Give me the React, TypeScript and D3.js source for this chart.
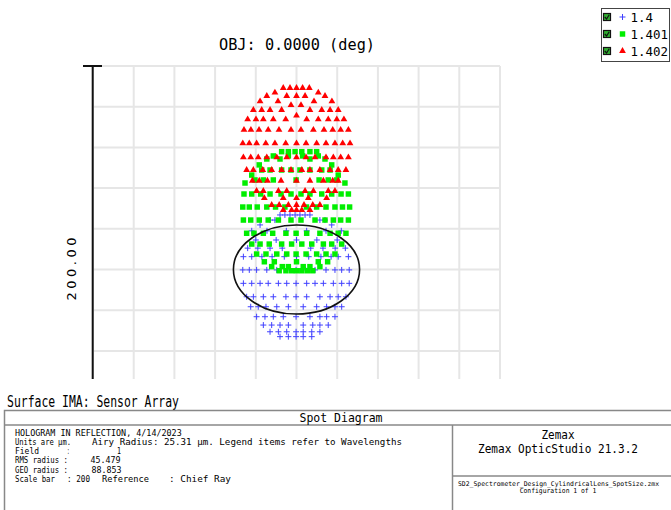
import React from 'react';
import * as d3 from 'd3';

// ---------- data (µm, relative to chief ray) ----------
const wavelengths = ['1.4', '1.401', '1.402'];
const seriesColors = ['#4040ff', '#00ee00', '#ff0000'];
const gridTicks = [-100, -80, -60, -40, -20, 0, 20, 40, 60, 80, 100];
const scaleBar = 200;
const airyEllipse = { rx: 31, ry: 21.9 };

// rows: [y, [x...]]
const blueRows: [number, number[]][] = [
  [26.8, [-8.1, -5.7, -3.2, -0.7, 1.7, 4.2, 6.6]],
  [24.3, [-13.0, -10.6, 11.5, 14.0]],
  [21.9, [-17.9, 17.3]],
  [19.0, [-22.0, -14.5, -5.0, 5.0, 14.5, 22.0]],
  [14.5, [-20.0, -10.0, 0, 10.0, 20.0]],
  [10.5, [-24.0, -19.0, -13.0, -7.0, 7.0, 13.0, 19.0, 24.0]],
  [6.3, [-26.1, -22.0, -17.0, -12.0, -6.0, 0, 6.0, 12.0, 17.0, 20.5, 25.5]],
  [-0.2, [-26.4, -23.2, -19.6, -14.6, -9.7, -4.5, -0.2, 4.5, 9.1, 14.5, 18.9, 22.2, 25.9]],
  [-6.8, [-26.1, -22.0, -17.9, -13.9, -8.9, -4.8, -0.2, 5.0, 9.1, 13.2, 18.1, 22.2, 25.9]],
  [-13.4, [-24.5, -21.2, -16.3, -11.4, -5.2, -0.2, 5.0, 11.5, 16.5, 20.5, 24.3]],
  [-18.3, [-22.5, -18.8, -15.0, -9.7, -4.0, 3.3, 9.9, 14.8, 18.9, 22.2]],
  [-23.2, [-19.6, -15.5, -11.4, -6.5, -0.2, 6.6, 11.5, 14.8, 18.9]],
  [-27.3, [-16.3, -12.2, -8.1, -4.0, 3.3, 8.0, 11.5, 15.6]],
  [-30.6, [-13.0, -8.9, -4.8, -0.2, 3.3, 7.5, 11.5]],
  [-33.0, [-8.1, -4.0, -0.2, 3.3, 7.5]],
];

const greenRows: [number, number[]][] = [
  [57.9, [-7.3, -4.0, -0.7, 2.6, 6.6, 9.9]],
  [55.8, [-11.4, -4.0, 3.0, 10.7]],
  [54.3, [-14.6, -8.1, 6.6, 14.0]],
  [51.4, [-18.3, 17.3]],
  [48.9, [-17.1, -13.0, -7.3, -2.7, 1.7, 6.6, 12.4, 16.5]],
  [46.4, [-22.0, 20.5]],
  [44.0, [-20.4, -16.3, -11.4, -0.2, 11.1, 15.6, 19.8]],
  [42.5, [-25.3, 23.8]],
  [37.1, [-25.8, -22.0, -17.6, -13.0, -7.6, -2.7, 2.2, 6.6, 12.4, 17.3, 21.9, 25.5]],
  [30.7, [-26.4, -23.2, -19.3, -14.6, -10.3, -5.7, 4.9, 9.9, 14.5, 18.9, 22.6, 26.1]],
  [24.3, [-26.1, -22.5, -18.3, -13.9, -8.9, -2.7, 2.2, 9.1, 14.0, 18.1, 21.7, 25.5]],
  [17.8, [-24.5, -20.9, -16.3, -11.7, -5.2, -0.2, 5.0, 11.5, 16.5, 20.5, 24.3]],
  [12.5, [-22.0, -17.9, -13.4, -7.3, -2.4, 2.6, 7.5, 13.2, 17.3, 22.2]],
  [7.6, [-19.6, -15.0, -9.7, -4.8, -0.2, 4.7, 9.9, 14.5, 18.9]],
  [3.8, [-15.8, -10.9, 0, 10.7, 15.3]],
  [1.4, [-12.2, -7.0, -4.0, 3.3, 6.6, 11.5]],
  [-0.6, [-8.5, -5.2, -2.4, 0, 2.6, 5.3, 8.0]],
];

const redRows: [number, number[]][] = [
  [89.2, [-6.5, -3.2, 0, 3.0, 6.3]],
  [86.9, [-10.6, 10.7]],
  [85.3, [-14.6, -4.8, 0, 4.2, 14.0]],
  [82.6, [-17.9, -9.1, 8.6, 17.4]],
  [80.8, [-2.7, 2.2]],
  [78.4, [-21.2, -17.1, -13.0, -7.3, 6.6, 12.4, 16.5, 20.5]],
  [75.6, [0]],
  [73.8, [-24.0, -19.9, -16.3, -11.4, -5.3, 5.0, 10.7, 15.6, 19.8, 23.3]],
  [68.6, [-25.8, -22.4, -18.4, -13.9, -8.6, -2.7, 2.2, 8.3, 13.5, 17.8, 21.7, 25.5]],
  [62.0, [-26.4, -23.2, -19.6, -15.1, -10.6, -5.3, 0, 4.7, 9.9, 14.5, 18.9, 22.7, 26.3]],
  [55.1, [-26.1, -22.5, -18.8, -14.6, -9.7, -4.8, 0, 4.7, 9.1, 14.5, 18.1, 21.7, 25.5]],
  [48.9, [-24.5, -21.2, -16.6, -12.2, -7.3, -2.7, 2.6, 6.6, 11.5, 16.5, 20.5, 24.3]],
  [43.6, [-21.7, -18.3, -14.3, -7.6, 0, 6.6, 13.2, 17.8, 20.5]],
  [38.6, [-19.6, -16.3, -8.9, -4.8, 4.2, 8.3, 15.6, 18.9]],
  [35.1, [-15.8, -6.5, 0, 5.8, 14.8]],
  [31.7, [-12.2, -8.5, -4.0, 0, 3.7, 8.0, 11.5]],
  [29.2, [-6.5, -2.4, 0, 2.6, 6.6]],
];

const titleText = 'OBJ: 0.0000 (deg)';
const surfaceText = 'Surface IMA: Sensor Array';
const panelTitle = 'Spot Diagram';
// info lines: segments of [text, x-start, width]
const infoLines: [string, number, number][][] = [
  [['HOLOGRAM IN REFLECTION, 4/14/2023', 15, 166.7]],
  [['Units are µm.', 15, 56], ['Airy Radius: 25.31 µm. Legend items refer to Wavelengths', 92, 310]],
  [['Field', 15, 24], [':', 67, 2.5], ['1', 117, 4]],
  [['RMS radius :', 15, 53], ['45.479', 90.5, 30]],
  [['GEO radius :', 15, 53], ['88.853', 91.5, 30]],
  [['Scale bar', 15, 40], [': 200', 67, 23], ['Reference', 102, 47], [': Chief Ray', 169, 62]],
];
const brandLines = ['Zemax', 'Zemax OpticStudio 21.3.2'];
const fileLines = ['SD2_Spectrometer_Design_CylindricalLens_SpotSize.zmx', 'Configuration 1 of 1'];

// ---------- layout ----------
const W = 671;
const H = 510;
const plotLeft = 93;
const plotRight = 500;
const plotTop = 66;
const plotBottom = 473;
const clipBottom = 379;
const MONO = '"DejaVu Sans Mono", "Liberation Mono", monospace';

const xScale = d3.scaleLinear().domain([-scaleBar / 2, scaleBar / 2]).range([plotLeft, plotRight]);
const yScale = d3.scaleLinear().domain([-scaleBar / 2, scaleBar / 2]).range([plotBottom, plotTop]);

const toPoints = (rows: [number, number[]][]) =>
  rows.flatMap(([y, xs]) => xs.map((x) => [x, y] as [number, number]));

const triPath = d3.symbol().type(d3.symbolTriangle).size(20)() as string;
const sqPath = d3.symbol().type(d3.symbolSquare).size(30)() as string;

function MText(props: {
  x: number; y: number; text: string; size: number; len?: number; anchor?: string; color?: string; family?: string;
}) {
  const { x, y, text, size, len, anchor, color, family } = props;
  return (
    <text
      x={x}
      y={y}
      fontSize={size}
      fontFamily={family || MONO}
      fill={color || '#000'}
      textAnchor={anchor || 'start'}
      {...(len ? { textLength: len, lengthAdjust: 'spacingAndGlyphs' } : {})}
    >
      {text}
    </text>
  );
}

function Plus({ x, y, color }: { x: number; y: number; color: string }) {
  return (
    <path d={`M${x - 3},${y}H${x + 3}M${x},${y - 3}V${y + 3}`} stroke={color} strokeWidth={1} fill="none" />
  );
}

export default function App() {
  const blue = toPoints(blueRows);
  const green = toPoints(greenRows);
  const red = toPoints(redRows);
  const cx = xScale(0);
  const cy = yScale(0);
  const rx = xScale(airyEllipse.rx) - cx;
  const ry = cy - yScale(airyEllipse.ry);

  const lineH = 9.27;
  const infoTop = 435.5;

  return (
    <svg
      width={W}
      height={H}
      viewBox={`0 0 ${W} ${H}`}
      style={{ position: 'absolute', left: 0, top: 0, background: '#fff' }}
    >
      <defs>
        <clipPath id="plotClip">
          <rect x={0} y={0} width={W} height={clipBottom} />
        </clipPath>
      </defs>
      <rect x={0} y={0} width={W} height={H} fill="#fff" />

      {/* title */}
      <MText x={297} y={50} text={titleText} size={15} len={156} anchor="middle" />

      {/* grid */}
      <g clipPath="url(#plotClip)">
        {gridTicks.map((t) => (
          <line key={'v' + t} x1={xScale(t)} x2={xScale(t)} y1={plotTop} y2={plotBottom} stroke="#e6e6e6" strokeWidth={2} />
        ))}
        {gridTicks.map((t) => (
          <line key={'h' + t} x1={plotLeft} x2={plotRight} y1={yScale(t)} y2={yScale(t)} stroke="#e6e6e6" strokeWidth={2} />
        ))}
        {/* scale bar */}
        <line x1={92.7} x2={92.7} y1={plotTop} y2={plotBottom} stroke="#111" strokeWidth={2} />
        <line x1={83} x2={102} y1={plotTop} y2={plotTop} stroke="#111" strokeWidth={2} />

        {/* spots */}
        {blue.map(([x, y], i) => (
          <Plus key={'b' + i} x={xScale(x)} y={yScale(y)} color={seriesColors[0]} />
        ))}
        {green.map(([x, y], i) => (
          <path key={'g' + i} d={sqPath} transform={`translate(${xScale(x)},${yScale(y)})`} fill={seriesColors[1]} />
        ))}
        {red.map(([x, y], i) => (
          <path key={'r' + i} d={triPath} transform={`translate(${xScale(x)},${yScale(y)})`} fill={seriesColors[2]} />
        ))}
        <ellipse cx={cx} cy={cy} rx={rx} ry={ry} fill="none" stroke="#111" strokeWidth={1.6} />
      </g>

      {/* scale label */}
      <g transform="translate(75.5,269) rotate(-90)">
        <text x={0} y={0} fontSize={13} fontFamily='"DejaVu Sans", Verdana, sans-serif' textAnchor="middle"
          textLength={63} lengthAdjust="spacing">{scaleBar.toFixed(2)}</text>
      </g>

      {/* legend */}
      <rect x={601.5} y={8.5} width={68} height={53} fill="#fff" stroke="#444" strokeWidth={1} />
      {wavelengths.map((w, i) => {
        const yy = 17 + i * 17;
        return (
          <g key={w}>
            <rect x={603.5} y={yy - 3.5} width={7} height={7} fill="#30b030" stroke="#111" strokeWidth={1.2} />
            <path d={`M${604.8},${yy} L${606.6},${yy + 2} L${609.2},${yy - 2.2}`} stroke="#111" strokeWidth={1.2} fill="none" />
            {i === 0 && <Plus x={622.5} y={yy} color={seriesColors[0]} />}
            {i === 1 && <path d={sqPath} transform={`translate(622.5,${yy})`} fill={seriesColors[1]} />}
            {i === 2 && <path d={triPath} transform={`translate(622.5,${yy})`} fill={seriesColors[2]} />}
            <MText x={630.5} y={yy + 4.5} text={w} size={12.5} len={w.length * 7.5} />
          </g>
        );
      })}

      {/* bottom panel */}
      <MText x={7} y={407} text={surfaceText} size={15} len={172} />
      <g stroke="#888" strokeWidth={1.5} fill="none">
        <rect x={4.5} y={410.5} width={700} height={120} />
        <line x1={4.5} x2={680} y1={425} y2={425} />
        <line x1={452.5} x2={452.5} y1={425} y2={H} />
        <line x1={452.5} x2={680} y1={476} y2={476} />
      </g>
      <MText x={341} y={422} text={panelTitle} size={13} len={83} anchor="middle" />

      {infoLines.map((segs, i) => (
        <g key={'info' + i}>
          {segs.map(([t, x, len], j) => (
            <MText key={j} x={x} y={infoTop + i * lineH} text={t} size={9} len={len} />
          ))}
        </g>
      ))}

      <MText x={558} y={438.5} text={brandLines[0]} size={12.5} len={33} anchor="middle" />
      <MText x={558} y={453} text={brandLines[1]} size={12.5} len={160} anchor="middle" />
      <MText x={458} y={485.5} text={fileLines[0]} size={6.5} len={201} />
      <MText x={558} y={492.5} text={fileLines[1]} size={7} len={76.7} anchor="middle" />
    </svg>
  );
}
